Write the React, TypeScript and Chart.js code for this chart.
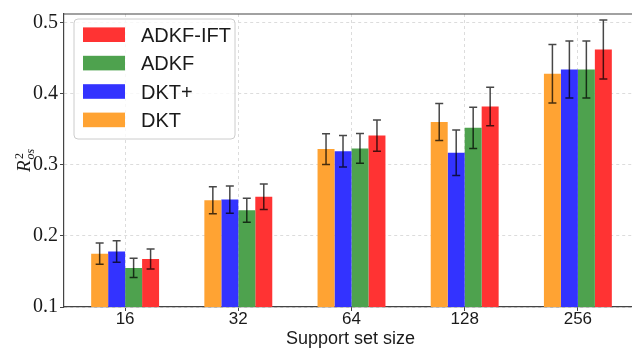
import React, { useEffect, useRef } from "react";
import { Chart, registerables } from "chart.js";

Chart.register(...registerables);

// Support set sizes along the x axis
const sizes = ["16", "32", "64", "128", "256"];

// Mean R^2_os and error half-widths per method
const dktMean = [0.175, 0.25, 0.322, 0.36, 0.428];
const dktErr = [0.015, 0.019, 0.0215, 0.026, 0.041];
const dktPlusMean = [0.178, 0.251, 0.319, 0.317, 0.434];
const dktPlusErr = [0.015, 0.019, 0.022, 0.032, 0.04];
const adkfMean = [0.155, 0.236, 0.323, 0.352, 0.434];
const adkfErr = [0.0135, 0.017, 0.021, 0.029, 0.04];
const adkfIftMean = [0.1675, 0.255, 0.341, 0.382, 0.462];
const adkfIftErr = [0.014, 0.018, 0.022, 0.027, 0.0415];

const yTicks = [0.1, 0.2, 0.3, 0.4, 0.5];

const methods = [
  { name: "DKT", mean: dktMean, err: dktErr, color: "rgb(255,163,51)" },
  { name: "DKT+", mean: dktPlusMean, err: dktPlusErr, color: "rgb(51,51,255)" },
  { name: "ADKF", mean: adkfMean, err: adkfErr, color: "rgb(78,162,78)" },
  { name: "ADKF-IFT", mean: adkfIftMean, err: adkfIftErr, color: "rgb(255,51,51)" },
];

const SANS = "'Liberation Sans', Arial, sans-serif";
const SERIF = "'Liberation Serif', 'Times New Roman', serif";
const AXIS = "#444";
const GRID = "#dcdcdc";

const errorBars = {
  id: "errorBars",
  afterDatasetsDraw(chart: any) {
    const { ctx } = chart;
    const y = chart.scales.y;
    ctx.save();
    ctx.strokeStyle = "rgba(0,0,0,0.72)";
    ctx.lineWidth = 1.5;
    chart.data.datasets.forEach((_ds: any, k: number) => {
      const meta = chart.getDatasetMeta(k);
      meta.data.forEach((bar: any, i: number) => {
        const m = methods[k].mean[i];
        const e = methods[k].err[i];
        const top = y.getPixelForValue(m + e);
        const bot = y.getPixelForValue(m - e);
        const x = bar.x;
        ctx.beginPath();
        ctx.moveTo(x, top);
        ctx.lineTo(x, bot);
        ctx.moveTo(x - 4, top);
        ctx.lineTo(x + 4, top);
        ctx.moveTo(x - 4, bot);
        ctx.lineTo(x + 4, bot);
        ctx.stroke();
      });
    });
    ctx.restore();
  },
};

const decorations = {
  id: "decorations",
  afterDraw(chart: any) {
    const { ctx, chartArea } = chart;
    ctx.save();

    // top and right spines
    ctx.strokeStyle = AXIS;
    ctx.lineWidth = 1.2;
    ctx.beginPath();
    ctx.moveTo(chartArea.left, chartArea.top);
    ctx.lineTo(chartArea.right, chartArea.top);
    ctx.lineTo(chartArea.right, chartArea.bottom);
    ctx.stroke();

    // legend box
    const bx = 74, by = 19, bw = 161, bh = 120, r = 4;
    ctx.beginPath();
    ctx.moveTo(bx + r, by);
    ctx.arcTo(bx + bw, by, bx + bw, by + bh, r);
    ctx.arcTo(bx + bw, by + bh, bx, by + bh, r);
    ctx.arcTo(bx, by + bh, bx, by, r);
    ctx.arcTo(bx, by, bx + bw, by, r);
    ctx.closePath();
    ctx.fillStyle = "rgba(255,255,255,0.8)";
    ctx.fill();
    ctx.strokeStyle = "#cccccc";
    ctx.lineWidth = 1;
    ctx.stroke();

    const rows = [...methods].reverse();
    ctx.font = `20px ${SANS}`;
    ctx.textBaseline = "alphabetic";
    ctx.textAlign = "left";
    rows.forEach((m, j) => {
      const cy = 34.7 + j * 28.4;
      ctx.fillStyle = m.color;
      ctx.fillRect(83, cy - 7.3, 42, 14.6);
      ctx.fillStyle = "#1a1a1a";
      ctx.fillText(m.name, 141, cy + 7.2);
    });

    // x axis title
    ctx.font = `18px ${SANS}`;
    ctx.textAlign = "center";
    ctx.fillStyle = "#1a1a1a";
    ctx.fillText("Support set size", (chartArea.left + chartArea.right) / 2 - 1, 344);

    // y axis title: R^2_os
    ctx.translate(30, 172);
    ctx.rotate(-Math.PI / 2);
    ctx.textAlign = "left";
    ctx.font = `italic 19px ${SERIF}`;
    ctx.fillText("R", 0, 0);
    ctx.font = `12px ${SERIF}`;
    ctx.fillText("2", 13, -7);
    ctx.font = `italic 12px ${SERIF}`;
    ctx.fillText("os", 12.5, 3.5);

    ctx.restore();
  },
};

export default function App() {
  const ref = useRef<HTMLCanvasElement | null>(null);

  useEffect(() => {
    if (!ref.current) return;
    const chart = new Chart(ref.current, {
      type: "bar",
      data: {
        datasets: methods.map((m) => ({
          label: m.name,
          data: m.mean.map((v, i) => ({ x: i, y: v })),
          backgroundColor: m.color,
          borderWidth: 0,
          categoryPercentage: 0.6,
          barPercentage: 1,
        })),
      },
      options: {
        responsive: false,
        animation: false,
        devicePixelRatio: 1,
        layout: { padding: { top: 8, right: 1, left: 0, bottom: 0 } },
        plugins: { legend: { display: false }, tooltip: { enabled: false } },
        scales: {
          x: {
            type: "linear",
            min: -0.54,
            max: 4.54,
            offset: false,
            afterBuildTicks: (s: any) => {
              s.ticks = sizes.map((_, i) => ({ value: i }));
            },
            afterFit: (s: any) => {
              s.height = 42;
            },
            ticks: {
              callback: (_v: any, i: number) => sizes[i],
              color: "#1a1a1a",
              font: { family: SANS, size: 17 },
              padding: -2,
              maxRotation: 0,
              autoSkip: false,
            },
            grid: {
              offset: false,
              color: GRID,
              lineWidth: 1,
              tickLength: 4,
              tickColor: AXIS,
              tickWidth: 1,
            },
            border: { display: true, color: AXIS, width: 1.2, dash: [3, 3] },
          },
          y: {
            min: 0.1,
            max: 0.512,
            afterBuildTicks: (s: any) => {
              s.ticks = yTicks.map((v) => ({ value: v }));
            },
            afterFit: (s: any) => {
              s.width = 64;
            },
            ticks: {
              callback: (v: any) => Number(v).toFixed(1),
              color: "#1a1a1a",
              font: { family: SERIF, size: 20 },
              padding: 2,
            },
            grid: {
              color: GRID,
              lineWidth: 1,
              tickLength: 4,
              tickColor: AXIS,
              tickWidth: 1,
            },
            border: { display: true, color: AXIS, width: 1.2, dash: [3, 3] },
          },
        },
      } as any,
      plugins: [errorBars, decorations],
    });
    return () => chart.destroy();
  }, []);

  return (
    <div
      style={{
        position: "fixed",
        left: 0,
        top: 0,
        width: 632,
        height: 349,
        overflow: "hidden",
        background: "#fff",
      }}
    >
      <canvas ref={ref} width={640} height={349} style={{ display: "block" }} />
    </div>
  );
}
